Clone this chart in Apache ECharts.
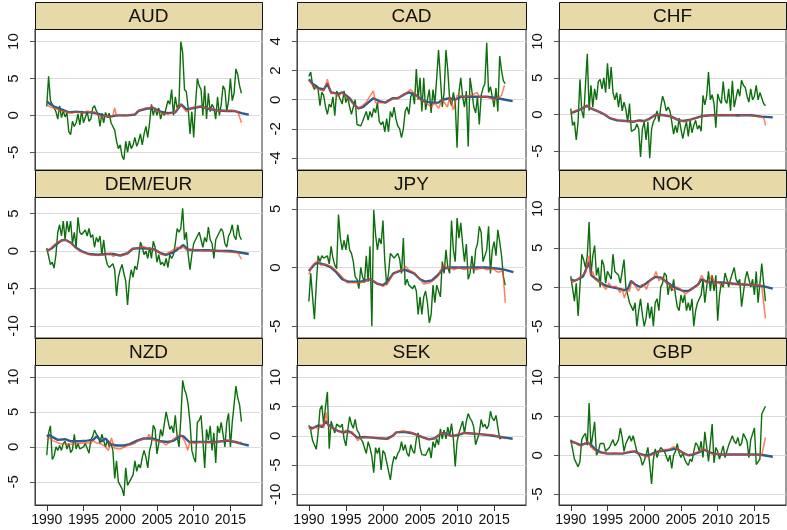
<!DOCTYPE html>
<html>
<head>
<meta charset="utf-8">
<script src="https://cdn.jsdelivr.net/npm/echarts@6/dist/echarts.min.js"></script>
<style>
html, body { margin: 0; padding: 0; background: #fff; }
#chart { width: 787px; height: 530px; }
</style>
</head>
<body>
<div id="chart"></div>
<script>
// panel names, in reading order
var panels = ['AUD', 'CAD', 'CHF', 'DEM/EUR', 'JPY', 'NOK', 'NZD', 'SEK', 'GBP'];
var startYear = 1990;
var quarter = 0.25;
var yearTicks = [1990, 1995, 2000, 2005, 2010, 2015];

var yMin = [-7.4, -4.82, -7.6, -11.6, -6.0, -6.5, -8.3, -11.8, -6.4];
var yMax = [11.7, 4.85, 11.7, 7.2, 6.0, 11.5, 11.7, 12.1, 11.6];
var yTicks = [
    [-5, 0, 5, 10], [-4, -2, 0, 2, 4], [-5, 0, 5, 10],
    [-10, -5, 0, 5], [-5, 0, 5], [-5, 0, 5, 10],
    [-5, 0, 5, 10], [-10, -5, 0, 5, 10], [-5, 0, 5, 10]
];

// green: quarterly values from 1990q1
var greenAUD = [1.2, 5.3, 2.0, 1.5, 1.3, 0.5, -0.5, 1.3, -0.3, 0.6, -0.2, 0.3, -2.2, -2.6, -0.8, -1.5,
    -1.0, 0.2, -1.3, 0.6, -1.0, -1.2, 0.5, -0.8, -0.5, 1.0, 1.3, 0.6, 0.2, -1.5, 0.3, -1.0,
    0.4, -0.3, 0.3, -1.0, -1.5, -2.0, -3.5, -4.5, -4.0, -5.5, -6.0, -3.5, -5.0, -3.5, -4.5, -4.0,
    -3.0, -4.2, -3.5, -2.5, -4.0, -2.5, -1.5, -3.0, -1.0, 1.5, 0.0, 1.0, 0.0, 1.0, -0.5, 0.5,
    0.0, 1.0, 2.0, 1.5, 3.5, 0.0, 2.5, 1.0, 1.5, 10.0, 8.5, 3.5, 3.2, 1.0, -2.5, 0.5,
    -3.0, 1.5, 5.0, 4.0, 3.5, 0.0, 4.0, -0.5, 3.0, 0.5, 1.5, 1.0, -0.5, 2.5, 0.0, 1.5,
    4.0, 3.5, 0.5, 2.0, 5.0, 2.0, 3.0, 6.3, 5.5, 4.0, 3.0];
var greenCAD = [1.6, 1.9, 1.0, 0.7, 1.0, 0.7, -0.4, 0.5, 0.3, -0.5, -1.0, -0.3, -0.5, 0.2, -1.1, 0.6,
    0.3, 0.4, -0.3, 0.6, -0.2, 0.2, -0.5, -1.0, -0.5, 0.0, -1.7, -1.6, -1.8, -1.5, -1.6, -0.8,
    -1.4, -0.8, -1.2, -0.6, -0.9, -0.2, -1.5, -1.7, -1.5, -2.2, -1.3, -2.2, -0.8, -1.2, -0.5, -1.3,
    -1.8, -2.0, -2.6, -2.0, -0.8, -0.5, -1.0, 0.2, 0.5, -0.3, 2.1, 0.0, 1.5, -0.8, 1.5, -0.7,
    -0.7, 0.7, -0.9, 0.7, -0.3, 1.5, 3.4, 1.5, -0.5, 0.5, 3.4, 2.0, 0.0, -0.4, 0.5, -0.2,
    -3.3, 0.5, 1.5, 0.2, -0.5, 0.6, -3.2, 1.5, 0.6, -0.5, -0.9, 0.2, -1.7, 0.3, 0.8, 1.1,
    3.9, 0.5, 0.9, 0.8, -0.5, 0.8, -0.8, 3.0, 2.0, 1.3, 1.1];
var greenCHF = [0.8, -1.5, -1.0, -3.5, -1.0, 4.8, 0.5, -0.5, 4.0, 8.3, 0.5, 4.0, 1.0, 3.5, 2.0, 4.5,
    4.8, 3.5, 5.0, 3.0, 7.0, 3.5, 6.5, 3.0, 2.0, 3.0, 1.0, 2.8, 0.5, 1.7, 0.7, -1.0,
    1.5, -2.3, -2.5, -2.0, -1.3, -2.0, -5.8, -2.0, -1.0, -3.5, -1.0, -6.0, -2.0, -1.0, -0.5, 0.5,
    -1.0, 1.0, 2.5, 1.7, 0.5, 1.0, 0.5, -1.0, -2.7, -1.5, -2.5, -0.5, -2.0, -3.3, -2.0, -1.0,
    -3.0, -0.8, -2.5, -1.5, -0.8, -2.0, -1.5, -2.3, 2.6, 1.3, 2.5, 5.8, 2.0, 2.7, 1.5, -1.8,
    2.8, 2.0, 1.5, 4.5, 2.0, 1.5, 3.5, 0.5, 4.6, 1.0, 1.2, 3.5, 2.5, 4.7, 4.0, 3.7,
    2.5, 1.7, 3.5, 2.0, 2.5, 4.0, 2.0, 3.0, 3.2, 1.5, 1.2];
var greenDEM = [0.4, 0.6, -1.8, -1.5, -2.3, -0.5, 2.5, 3.5, 2.0, 4.0, 1.5, 4.0, 2.5, 4.0, 1.0, 2.5,
    0.5, 4.5, 2.5, 2.2, 2.5, 2.8, 2.0, 3.0, 1.8, 2.2, 0.5, 1.8, 1.2, 2.0, -0.5, 1.5,
    -0.8, -1.8, -2.2, -2.0, -1.7, -2.5, -6.0, -3.5, -2.5, -1.8, -3.0, -4.0, -7.2, -4.0, -2.5, -3.5,
    -2.0, -2.5, -1.0, 1.2, 0.5, -0.5, 0.0, -1.0, 0.5, -1.0, 1.3, 0.5, -1.5, -0.5, -1.8, -1.5,
    -2.0, -1.0, -2.2, -0.5, -1.0, -0.5, 1.0, 3.0, 2.5, 3.0, 5.7, 1.5, 2.5, -0.5, -2.5, -0.5,
    1.0, 1.5, 2.0, 2.5, 1.5, 0.5, 1.8, 1.2, 3.2, 1.5, 1.0, -1.0, 1.5, 2.0, 2.5, 3.0,
    2.5, 1.0, 0.5, 2.0, 2.5, 3.5, 2.0, 1.5, 3.5, 2.0, 1.5];
var greenJPY = [-2.9, -0.5, -2.5, -4.4, -1.5, 1.0, 0.5, 1.0, 0.8, 0.7, 1.0, 0.3, 1.8, 0.8, 0.2, -0.1,
    4.5, 2.5, 1.5, 2.3, 1.5, 2.8, 1.5, 1.2, 0.5, -0.8, -1.0, -1.8, 0.0, -0.8, -1.3, 1.0,
    -1.2, 1.8, -5.0, 4.9, 2.8, 1.5, 2.5, 2.0, 4.0, 0.5, -1.5, -0.5, 1.2, 1.0, 0.8, 1.0,
    1.2, 0.7, -0.5, 2.5, -1.5, -1.0, -1.5, -1.5, -1.8, -1.5, -2.0, -4.0, -2.5, -4.0, -2.5, -2.0,
    -3.0, -4.7, -4.0, -1.5, -3.0, -1.5, -1.5, -2.5, 0.5, -0.5, 1.5, 0.0, -0.5, 4.0, 1.5, 0.5,
    4.2, 2.5, 3.8, 2.0, 0.5, 2.0, -1.0, -0.5, 1.0, -0.5, 1.5, 2.0, 3.5, 3.0, 0.5, 0.5,
    1.5, 3.5, -0.5, 1.5, 2.2, 1.0, 3.2, 2.2, 1.0, -0.8, -1.5];
var greenNOK = [1.4, 1.2, -1.8, 0.5, -3.7, 0.0, 4.2, 3.5, 2.5, 4.0, 8.3, 1.5, 4.0, 5.3, 1.5, 2.5,
    0.0, 3.5, 2.8, 0.5, 2.0, 1.8, 1.0, 4.2, 2.0, 2.0, 1.5, 0.5, 0.3, 3.5, 0.0, -1.0,
    -2.0, -2.5, -3.0, -2.0, -5.0, -3.0, -1.5, -3.5, -5.0, -4.0, -2.0, -4.0, -2.5, -5.0, -2.0, -1.5,
    -3.0, 0.0, 0.5, 1.8, 1.5, -1.0, 0.5, -0.5, 1.0, -1.0, -2.5, -3.0, -1.0, -2.0, -1.0, -3.0,
    -2.0, -3.0, -1.5, -5.0, -3.0, -2.0, -2.0, -1.0, 1.0, -2.0, 0.0, 2.0, -0.5, 1.5, -0.5, 1.5,
    -4.3, -1.0, 0.5, 0.0, 1.8, 1.0, 0.0, 1.0, 1.0, 2.5, 1.0, 0.5, 1.0, -2.5, -2.5, 1.0,
    2.0, 1.0, 0.0, 1.0, -1.0, 2.0, -2.0, -2.0, 3.0, 0.5, -1.8];
var greenNZD = [-1.2, 2.0, 3.0, -1.8, -1.3, 0.0, -0.5, 0.2, -0.5, 0.5, 0.8, -0.3, 0.5, -0.8, -0.4, 1.8,
    -0.3, 0.5, -0.3, -0.1, 0.0, 0.5, 0.3, -0.9, 1.0, 1.5, 2.4, 1.8, 1.5, 0.5, 1.8, 2.0,
    0.0, 1.0, 0.0, 0.5, -0.5, -4.5, -2.0, -5.0, -5.5, -6.0, -7.0, -3.0, -5.5, -5.7, -4.5, -4.0,
    -2.0, -3.5, -2.5, -3.0, -1.5, -0.5, -1.5, -3.0, -0.5, 0.5, 3.1, 2.5, -1.0, 0.5, 2.5, 1.5,
    1.5, 5.0, 5.1, 2.5, 3.0, 2.0, 4.5, 1.5, 0.0, 4.0, 9.5, 8.2, 7.5, 6.0, 3.5, -0.5,
    -1.5, -2.2, 3.5, 3.8, 4.5, 1.0, -3.0, 2.5, 1.0, 3.0, -0.5, 2.0, -2.3, 3.0, 2.0, 3.5,
    3.7, 0.0, 3.5, 4.8, 0.0, 3.5, 6.0, 8.7, 7.0, 6.0, 3.6];
var greenSEK = [1.8, 1.0, -0.8, -1.0, -2.3, 0.5, 4.5, 5.2, 2.0, 5.0, 7.5, -2.2, 2.5, 1.5, 0.5, 2.0,
    2.3, 1.5, 2.0, -0.5, -1.7, 1.0, 3.3, 2.0, 1.3, 2.8, 1.0, 0.5, -0.5, -1.0, -1.0, -3.0,
    -1.0, -2.0, -3.5, -6.3, -2.0, -3.0, -2.0, -5.8, -2.5, -3.0, -2.8, -6.0, -7.5, -5.0, -3.5, -4.0,
    -3.0, -2.5, -1.0, -2.5, -1.5, -3.0, -3.5, -1.5, -2.5, -3.0, -0.5, 0.5, -2.0, -3.2, -3.5, -3.3,
    -3.0, -2.0, -3.8, -1.0, -2.0, -0.5, -1.5, 1.2, -0.5, 1.0, -0.5, 1.5, 0.0, 2.1, -0.5, -5.2,
    -1.0, 0.5, 1.5, 2.5, 0.5, 2.5, 3.8, 3.0, 2.5, 1.5, -1.5, -1.5, 0.5, 2.8, 1.5, 2.0,
    1.2, 1.8, 4.2, 3.0, 2.6, 3.5, 1.5, -0.5, -0.3];
var greenGBP = [2.0, 2.0, -0.5, -0.6, -1.5, -0.8, 2.0, 2.5, 2.8, 1.3, 6.7, 1.0, 1.2, 4.3, 0.0, 0.5,
    1.5, 1.7, 1.5, 0.5, 0.5, 1.0, 1.0, 2.0, 1.2, 1.5, 2.0, 3.5, 2.3, 0.5, 1.5, 2.0,
    2.5, 1.8, 2.5, 1.5, 0.5, 0.5, -0.3, -1.3, -0.7, 0.0, 1.0, -1.2, -3.7, -0.5, 0.8, -0.3,
    0.5, 1.0, 0.8, 0.5, 0.5, -0.8, 0.0, -1.7, 0.0, 0.5, 1.5, 0.3, -0.3, 0.3, -0.5, -1.0,
    -1.3, -0.5, -0.8, 0.5, 1.6, 1.3, 0.5, 1.8, -0.3, 3.0, 3.2, -0.8, -0.8, 4.0, -1.0, 1.0,
    0.5, -0.5, -0.5, 1.2, -0.3, -0.5, 1.3, 1.5, 2.5, 1.8, 1.5, 2.3, 1.2, 1.5, 2.8, 2.3,
    1.8, -0.3, 2.0, 1.8, 3.5, -1.2, -1.0, -0.5, 5.3, 5.8, 6.3];

// orange: [year, value]
var orangeAUD = [[1990, 1.5], [1990.5, 1.1], [1991, 1.0], [1991.5, 0.8], [1992, 0.6], [1992.5, 0.5], [1993, 0.4], [1993.5, 0.3],
    [1994, 0.5], [1994.5, 0.4], [1995, 0.3], [1995.5, 0.6], [1996, 0.4], [1996.5, 0.5], [1997, 0.0], [1997.5, -0.2],
    [1998, -0.1], [1998.5, -0.2], [1999, 0.0], [1999.25, 1.0], [1999.5, -0.1], [2000, 0.0], [2000.5, -0.1], [2001, 0.0],
    [2001.5, 0.1], [2002, 0.2], [2002.5, 0.7], [2003, 0.8], [2003.5, 1.0], [2004, 1.0], [2004.3, 1.3], [2004.7, 0.8],
    [2005.5, 0.4], [2006, 0.2], [2006.5, 0.2], [2007, 0.3], [2007.5, 0.5], [2008.2, 1.5], [2008.6, 1.0], [2009, 0.5],
    [2009.5, 0.8], [2010, 1.1], [2010.5, 1.2], [2011, 1.2], [2011.5, 1.0], [2012, 1.0], [2012.5, 0.8], [2013, 0.7],
    [2013.5, 0.6], [2014, 0.7], [2014.5, 0.6], [2015, 0.7], [2015.5, 0.6], [2016, 0.5], [2016.25, 0.3], [2016.5, -1.0]];
var orangeCAD = [[1990, 1.3], [1990.7, 0.9], [1991.3, 0.7], [1992, 0.6], [1992.5, 1.4], [1993, 0.4], [1993.5, 0.5], [1994, 0.2],
    [1994.4, 0.5], [1995.5, 0.0], [1996, -0.3], [1996.5, -0.6], [1997, -0.5], [1997.7, -0.2], [1998.7, 0.6], [1999, -0.2],
    [2000, -0.2], [2000.8, -0.1], [2001.5, 0.1], [2002, 0.1], [2003, 0.4], [2003.7, 0.7], [2004.5, 0.3], [2005, 0.0],
    [2006, -0.3], [2006.5, -0.5], [2007, -0.2], [2007.5, -0.6], [2008, 0.0], [2008.7, -0.5], [2009, 0.2], [2009.5, -0.7],
    [2010, 0.3], [2011, 0.2], [2012, 0.3], [2012.7, 0.5], [2013, 0.2], [2014, 0.2], [2015, 0.0], [2016, 0.3], [2016.4, 1.0]];
var orangeCHF = [[1990, 0.1], [1990.5, 0.5], [1991, 0.6], [1991.5, 0.8], [1992.2, 1.3], [1992.6, 0.9], [1993.5, 0.5], [1994.3, 0.2],
    [1995, -0.3], [1995.8, -0.6], [1996.8, -0.8], [1998, -1.0], [1999, -0.9], [1999.7, -1.0], [2000.5, -0.7], [2001, -0.5],
    [2001.5, 0.0], [2002.5, -0.1], [2003.5, -0.2], [2004, -0.5], [2004.8, -0.8], [2005.5, -1.0], [2006.5, -0.7], [2007.5, -0.4],
    [2008.3, -0.1], [2008.6, -0.3], [2009, 0.0], [2009.5, -0.2], [2010.5, 0.0], [2011.5, -0.1], [2012, 0.0], [2012.7, -0.3],
    [2013.5, 0.0], [2014, -0.1], [2015, -0.2], [2015.8, -0.3], [2016.3, -0.5], [2016.5, -1.5]];
var orangeDEM = [[1990, 0.0], [1990.5, 0.3], [1991, 0.8], [1991.5, 1.2], [1992.3, 1.5], [1992.8, 1.4], [1993.3, 1.0], [1993.8, 0.5],
    [1994.5, 0.0], [1995.2, -0.3], [1996, -0.5], [1997, -0.6], [1998, -0.5], [1998.7, -0.3], [1999, -0.7], [1999.5, -0.5],
    [2000.3, -0.6], [2001, -0.3], [2001.6, 0.3], [2002.5, 0.4], [2003.2, 0.6], [2003.8, 0.3], [2004.5, 0.3], [2005.3, -0.2],
    [2005.8, -0.5], [2006.5, -0.3], [2007, 0.0], [2007.8, 0.5], [2008.3, 0.3], [2008.5, 0.6], [2009, 0.1], [2009.5, 0.2],
    [2010, 0.1], [2010.5, 0.2], [2011.5, 0.0], [2012.5, 0.1], [2013.5, 0.0], [2014.5, -0.1], [2015.5, -0.2], [2016, -0.2], [2016.5, -1.1]];
var orangeJPY = [[1990, -0.6], [1990.3, 0.0], [1990.7, 0.3], [1991.2, 0.6], [1991.6, 0.2], [1992.2, 0.3], [1993, 0.1], [1993.7, -0.3],
    [1994.5, -0.8], [1995.2, -1.3], [1996, -1.3], [1997, -1.3], [1997.5, -1.2], [1998.2, -1.0], [1998.6, -1.1], [1999.3, -1.4],
    [2000, -1.6], [2000.7, -1.3], [2001.3, -0.6], [2002, -0.3], [2002.7, -0.2], [2003, 0.1], [2003.5, -0.2], [2004.3, -0.5],
    [2005, -1.0], [2005.5, -1.4], [2006.3, -1.3], [2007, -1.0], [2007.5, -0.7], [2007.7, -0.3], [2008.3, 0.3], [2008.6, -0.1],
    [2009, 0.0], [2009.6, -0.2], [2010.2, 0.0], [2011, -0.2], [2011.6, 0.0], [2012.6, -0.2], [2013.3, 0.0], [2014, -0.2],
    [2014.8, -0.1], [2015.5, -0.4], [2016.2, -0.3], [2016.5, -3.0]];
var orangeNOK = [[1990, 1.0], [1990.3, 0.6], [1990.7, 0.9], [1991, 1.0], [1991.5, 1.5], [1992, 1.8], [1992.5, 4.0], [1992.7, 1.5],
    [1993, 2.0], [1993.3, 1.0], [1993.8, 0.8], [1994.3, 0.3], [1994.8, -0.3], [1995.2, 0.5], [1995.6, 0.0], [1996.2, 0.1],
    [1996.7, -0.7], [1997, -0.2], [1997.3, -1.4], [1997.6, -0.5], [1998, -0.5], [1998.3, 0.7], [1998.7, 0.3], [1999.2, -0.5],
    [1999.6, 0.3], [2000, 0.3], [2000.3, -0.3], [2000.7, 0.8], [2001.3, 1.2], [2001.6, 2.0], [2002, 0.8], [2002.5, 1.3],
    [2003, 0.5], [2003.5, 0.3], [2004, -0.4], [2004.5, 0.0], [2005, -0.3], [2005.6, -0.9], [2006, -0.6], [2006.5, -0.3],
    [2007.3, 0.3], [2007.8, 1.5], [2008.3, 0.7], [2008.7, 0.5], [2009.2, 1.5], [2009.6, 0.3], [2010, 0.7], [2010.5, 0.2],
    [2011, 0.5], [2011.5, 0.7], [2012, 0.3], [2012.5, 0.5], [2013, 0.2], [2013.5, 0.5], [2014, 0.2], [2014.5, 0.4],
    [2015, 0.2], [2015.5, 0.3], [2016, 0.1], [2016.5, -4.0]];
var orangeNZD = [[1990, 1.0], [1990.4, 1.3], [1990.8, 0.9], [1991.3, 0.7], [1992, 0.4], [1992.5, 0.5], [1993, 0.3], [1993.5, 0.4],
    [1994.5, 0.5], [1995.3, 0.6], [1996, 0.5], [1996.3, 0.9], [1996.7, 0.6], [1997.3, 0.5], [1998, 0.0], [1998.4, -0.5],
    [1998.8, 1.3], [1999.2, -0.2], [2000, -0.3], [2001, 0.2], [2001.8, 0.4], [2002.5, 0.9], [2003.3, 1.2], [2003.7, 1.3],
    [2003.9, 1.8], [2004.3, 1.0], [2005, 0.8], [2005.7, 0.7], [2006.2, 0.3], [2006.8, 0.7], [2007.3, 1.2], [2008, 1.7],
    [2008.4, 1.5], [2008.8, 0.8], [2009.2, -0.5], [2009.5, 0.8], [2010, 0.5], [2011, 0.7], [2012, 0.6], [2013, 0.7],
    [2014, 0.8], [2014.5, 1.0], [2015.5, 0.8], [2016, 0.5], [2016.5, 0.7]];
var orangeSEK = [[1990, 1.8], [1990.3, 1.0], [1990.8, 1.5], [1991.3, 1.2], [1991.7, 2.0], [1992, 1.3], [1992.3, 4.0], [1992.6, 1.8],
    [1993, 1.5], [1993.5, 1.2], [1994, 0.8], [1994.5, 0.5], [1995, 1.0], [1995.3, 0.5], [1995.8, 0.7], [1996.3, -0.2],
    [1996.6, -0.8], [1997, -0.3], [1998, -0.2], [1999, -0.3], [2000, -0.4], [2000.7, -0.6], [2001.3, 0.0], [2001.8, 0.6],
    [2002.5, 0.8], [2003.5, 0.7], [2004, 0.5], [2004.5, 0.2], [2005.2, -0.2], [2006, -0.6], [2006.7, -0.5], [2007.3, -0.2],
    [2007.8, 0.5], [2008.5, 0.3], [2009.2, 0.0], [2009.5, -0.2], [2010, 0.3], [2011, 0.5], [2012, 0.4], [2013, 0.3],
    [2014, 0.2], [2015, 0.1], [2016, -0.3], [2016.5, -0.5]];
var orangeGBP = [[1990, 1.5], [1990.5, 1.7], [1991, 1.3], [1991.5, 1.2], [1992.3, 1.8], [1992.6, 1.3], [1993, 0.8], [1993.5, 0.5],
    [1994, 0.3], [1995, 0.2], [1996, 0.3], [1997, 0.2], [1997.5, 0.3], [1998, 0.5], [1998.7, 0.5], [1999.3, 0.2],
    [2000, -0.1], [2000.5, -0.2], [2001.3, 0.2], [2002, 0.5], [2002.7, 0.7], [2003.5, 0.8], [2004, 1.1], [2004.5, 0.8],
    [2005.3, 0.3], [2006, 0.0], [2006.5, 0.1], [2007, 0.3], [2007.7, 0.6], [2008.2, 0.8], [2008.8, 0.3], [2009.5, 0.1],
    [2010, 0.2], [2011, 0.1], [2012, 0.1], [2013, 0.1], [2014, 0.1], [2015, 0.1], [2016, 0.0], [2016.5, 2.3]];

// blue: [year, value]
var blueAUD = [[1990, 1.9], [1990.5, 1.5], [1991, 1.2], [1992, 0.8], [1993, 0.4], [1994, 0.5], [1995, 0.4], [1996, 0.4],
    [1997, 0.2], [1998.5, -0.2], [1999.5, 0.0], [2001, 0.0], [2002, 0.1], [2002.5, 0.6], [2003.5, 0.9], [2004.5, 1.0],
    [2005.5, 0.5], [2006.5, 0.3], [2007.5, 0.4], [2008.3, 1.5], [2009, 0.8], [2010, 1.0], [2011, 1.2], [2012, 0.9],
    [2013, 0.7], [2014.5, 0.6], [2015.5, 0.6], [2016.5, 0.3], [2017.5, 0.1]];
var blueCAD = [[1990, 1.4], [1990.5, 1.1], [1991.3, 0.8], [1992, 0.7], [1992.5, 1.1], [1993, 0.5], [1994, 0.4], [1994.5, 0.5],
    [1995.5, 0.1], [1996.2, -0.4], [1996.7, -0.6], [1997.3, -0.5], [1998, -0.2], [1998.7, 0.1], [1999.5, -0.1], [2000.3, -0.2],
    [2001.3, 0.1], [2002, 0.1], [2003, 0.4], [2003.5, 0.5], [2004.5, 0.3], [2005.5, -0.1], [2006.5, -0.2], [2007.5, -0.2],
    [2008, 0.0], [2009, 0.1], [2009.7, 0.0], [2010.5, 0.2], [2012, 0.2], [2014, 0.2], [2015.5, 0.1], [2016.5, 0.0], [2017.5, -0.1]];
var blueCHF = [[1990, 0.2], [1990.6, 0.4], [1991.3, 0.7], [1992.2, 1.2], [1992.8, 0.8], [1993.8, 0.4], [1994.6, 0.0], [1995.3, -0.5],
    [1996.3, -0.8], [1997.5, -0.9], [1998.5, -1.0], [1999.3, -0.8], [2000, -0.9], [2000.7, -0.6], [2001.6, 0.0], [2002.7, -0.1],
    [2003.7, -0.3], [2004.5, -0.7], [2005.3, -0.9], [2006.3, -0.7], [2007.3, -0.4], [2008, -0.2], [2009, -0.1], [2011, -0.1],
    [2013, -0.1], [2014.5, -0.1], [2016, -0.3], [2017.5, -0.4]];
var blueDEM = [[1990, 0.0], [1990.6, 0.3], [1991.3, 0.9], [1992, 1.4], [1992.5, 1.5], [1993.3, 1.1], [1993.9, 0.5], [1994.7, 0.0],
    [1995.7, -0.4], [1997, -0.5], [1998.2, -0.4], [1999, -0.4], [2000, -0.6], [2001, -0.3], [2001.7, 0.3], [2002.8, 0.4],
    [2004, 0.3], [2004.7, 0.2], [2005.5, -0.3], [2006.2, -0.5], [2007.2, -0.2], [2008.2, 0.5], [2008.6, 0.8], [2009.2, 0.2],
    [2010, 0.1], [2012, 0.1], [2013.5, 0.0], [2015, 0.0], [2016.3, -0.2], [2017.5, -0.4]];
var blueJPY = [[1990, -0.3], [1990.8, 0.3], [1991.3, 0.4], [1992.3, 0.2], [1993, 0.0], [1993.7, -0.4], [1994.5, -1.0], [1995.3, -1.2],
    [1997, -1.2], [1998.3, -1.0], [1999.3, -1.4], [2000, -1.5], [2000.6, -1.2], [2001.4, -0.5], [2002.2, -0.3], [2003, -0.2],
    [2004.2, -0.5], [2005, -1.0], [2005.7, -1.2], [2006.6, -1.1], [2007.3, -0.7], [2008.2, -0.1], [2009, 0.0], [2012, 0.0],
    [2014, 0.0], [2015.5, -0.1], [2016.5, -0.2], [2017.6, -0.4]];
var blueNOK = [[1990, 1.0], [1990.5, 0.8], [1991, 1.0], [1991.7, 1.4], [1992.5, 3.2], [1992.8, 1.5], [1993.5, 1.0], [1994, 0.6],
    [1994.7, 0.2], [1995.5, 0.0], [1996.5, -0.2], [1997.3, -0.4], [1997.8, -0.2], [1998.2, 0.8], [1998.8, 0.3], [1999.5, 0.0],
    [2000.3, 0.5], [2001, 1.0], [2001.5, 1.3], [2002.3, 1.2], [2003, 0.7], [2003.7, 0.2], [2004.5, -0.2], [2005.3, -0.5],
    [2006, -0.5], [2006.5, -0.2], [2007.3, 0.3], [2007.8, 1.0], [2008.5, 0.7], [2009.5, 0.6], [2010.5, 0.6], [2011.5, 0.5],
    [2012.5, 0.4], [2014, 0.3], [2015.3, 0.2], [2016.3, 0.1], [2017.5, -0.2]];
var blueNZD = [[1990, 1.5], [1990.3, 1.7], [1990.8, 1.4], [1991.5, 1.0], [1992.5, 1.1], [1993.3, 0.8], [1994.5, 0.8], [1995.5, 0.9],
    [1996.3, 1.0], [1996.8, 1.5], [1997.5, 0.8], [1998, 1.2], [1998.7, 0.4], [1999.5, 0.2], [2000.5, 0.2], [2001.3, 0.4],
    [2002.3, 0.9], [2003.2, 1.2], [2004.5, 1.2], [2005.5, 0.8], [2006.5, 0.7], [2007.3, 0.9], [2008.2, 1.6], [2008.6, 1.5],
    [2009.4, 0.7], [2011, 0.7], [2013, 0.7], [2014.5, 0.9], [2015.7, 0.7], [2016.7, 0.4], [2017.5, 0.2]];
var blueSEK = [[1990, 1.5], [1990.5, 1.3], [1991.3, 1.8], [1991.8, 1.5], [1992.3, 2.5], [1992.7, 1.8], [1993.3, 1.3], [1994, 0.8],
    [1994.7, 0.6], [1995.3, 0.8], [1995.8, 0.5], [1996.5, -0.3], [1997.5, -0.2], [1998.5, -0.3], [1999.5, -0.4], [2000.5, -0.5],
    [2001.3, 0.0], [2001.8, 0.6], [2002.8, 0.7], [2003.8, 0.5], [2004.5, 0.2], [2005.3, -0.2], [2006.2, -0.6], [2007, -0.4],
    [2007.7, 0.3], [2008.2, 0.5], [2009.2, 0.0], [2010, 0.1], [2011, 0.5], [2012, 0.4], [2013, 0.3], [2014.5, 0.1],
    [2015.5, -0.1], [2016.5, -0.3], [2017.5, -0.5]];
var blueGBP = [[1990, 1.8], [1990.6, 1.6], [1991.3, 1.3], [1992.3, 1.6], [1992.7, 1.4], [1993.3, 0.8], [1994, 0.4], [1995, 0.2],
    [1996, 0.2], [1997, 0.2], [1998, 0.4], [1998.7, 0.5], [1999.3, 0.2], [2000, 0.0], [2000.7, 0.0], [2001.3, 0.3],
    [2002, 0.5], [2003, 0.6], [2004, 0.8], [2004.5, 0.8], [2005.3, 0.3], [2006, 0.0], [2006.7, 0.1], [2007.5, 0.4],
    [2008.2, 0.7], [2008.8, 0.4], [2009.5, 0.2], [2010.5, 0.1], [2012, 0.1], [2014, 0.1], [2015.3, 0.1], [2016.3, 0.0], [2017.5, -0.2]];

var greens = [greenAUD, greenCAD, greenCHF, greenDEM, greenJPY, greenNOK, greenNZD, greenSEK, greenGBP];
var oranges = [orangeAUD, orangeCAD, orangeCHF, orangeDEM, orangeJPY, orangeNOK, orangeNZD, orangeSEK, orangeGBP];
var blues = [blueAUD, blueCAD, blueCHF, blueDEM, blueJPY, blueNOK, blueNZD, blueSEK, blueGBP];

var GREEN = '#0c6e0c', BLUE = '#2b5c8c', ORANGE = '#ff4212';
var FONT = '"Liberation Sans", Arial, Helvetica, sans-serif';

// layout
var colLeft = [35, 297, 559];
var colWidth = [227, 229, 227];
var rowTop = [2, 170, 338];
var headH = 27;
var plotH = [141, 141, 140];

function quarterly(vals) {
    return vals.map(function (v, i) { return [startYear + i * quarter, v]; });
}
function plainLabel(v) { return String(v); }

function buildOption() {
    var grids = [], xAxes = [], yAxes = [], series = [], graphics = [];
    for (var i = 0; i < panels.length; i++) {
        var r = Math.floor(i / 3), c = i % 3;
        var isBottom = r === 2;
        var plotTop = rowTop[r] + headH;
        grids.push({
            left: colLeft[c], top: plotTop, width: colWidth[c], height: plotH[r],
            show: true, borderColor: '#333', borderWidth: 1, backgroundColor: '#fff'
        });
        xAxes.push({
            type: 'value', gridIndex: i, min: 1988.4, max: 2019.3,
            axisLine: { show: true, onZero: false, lineStyle: { color: '#333' } },
            axisTick: { show: isBottom, length: 6, customValues: yearTicks, lineStyle: { color: '#333' } },
            axisLabel: {
                show: isBottom, customValues: yearTicks, fontSize: 14, color: '#111', margin: 8,
                fontFamily: FONT, formatter: plainLabel
            },
            splitLine: { show: false }
        });
        yAxes.push({
            type: 'value', gridIndex: i, min: yMin[i], max: yMax[i],
            axisLine: { show: true, onZero: false, lineStyle: { color: '#444' } },
            axisTick: { show: true, length: 5, customValues: yTicks[i], lineStyle: { color: '#555' } },
            axisLabel: {
                rotate: 90, customValues: yTicks[i], fontSize: 15, color: '#111', margin: 14,
                fontFamily: FONT, formatter: plainLabel
            },
            splitLine: { show: true, lineStyle: { color: '#dcdcdc', width: 1 } }
        });
        series.push({
            type: 'line', xAxisIndex: i, yAxisIndex: i, data: quarterly(greens[i]),
            symbol: 'none', silent: true, lineStyle: { color: GREEN, width: 1.4 }, z: 2
        });
        series.push({
            type: 'line', xAxisIndex: i, yAxisIndex: i, data: blues[i],
            symbol: 'none', silent: true, lineStyle: { color: BLUE, width: 2.4 }, z: 3
        });
        series.push({
            type: 'line', xAxisIndex: i, yAxisIndex: i, data: oranges[i],
            symbol: 'none', silent: true, lineStyle: { color: ORANGE, width: 1.5, opacity: 0.68 }, z: 4
        });
        graphics.push({
            type: 'rect', z: 10,
            shape: { x: colLeft[c] + 0.5, y: rowTop[r] + 0.5, width: colWidth[c], height: headH },
            style: { fill: '#e7d9a8', stroke: '#111', lineWidth: 1 }
        });
        graphics.push({
            type: 'text', z: 11,
            x: colLeft[c] + colWidth[c] / 2, y: rowTop[r] + headH / 2 + 1,
            style: { text: panels[i], fontSize: 19, fontFamily: FONT, fill: '#111', align: 'center', verticalAlign: 'middle' }
        });
    }
    return {
        animation: false,
        backgroundColor: '#fff',
        grid: grids,
        xAxis: xAxes,
        yAxis: yAxes,
        series: series,
        graphic: graphics
    };
}

var chart = echarts.init(document.getElementById('chart'));
chart.setOption(buildOption());
</script>
</body>
</html>
